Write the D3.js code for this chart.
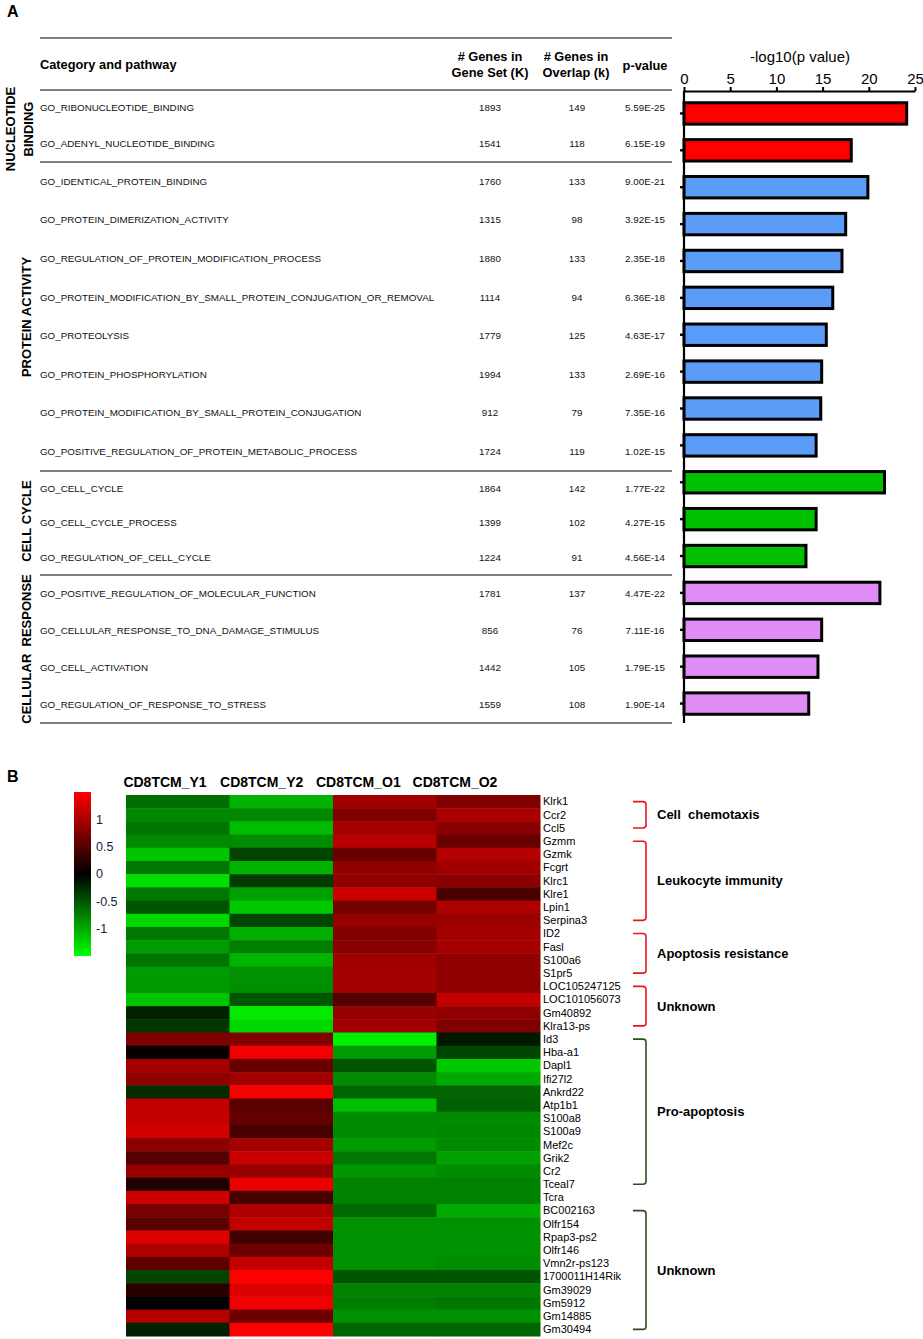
<!DOCTYPE html>
<html><head><meta charset="utf-8">
<script src="https://cdn.jsdelivr.net/npm/d3@7"></script>
<style>body{margin:0;background:#fff} svg{display:block} text{font-family:Arial,"Liberation Sans",sans-serif}</style>
</head><body>
<svg id="c" width="923" height="1339"></svg>
<script>
// ---------------- DATA: panel A ----------------
const pathways = ["GO_RIBONUCLEOTIDE_BINDING","GO_ADENYL_NUCLEOTIDE_BINDING","GO_IDENTICAL_PROTEIN_BINDING","GO_PROTEIN_DIMERIZATION_ACTIVITY","GO_REGULATION_OF_PROTEIN_MODIFICATION_PROCESS","GO_PROTEIN_MODIFICATION_BY_SMALL_PROTEIN_CONJUGATION_OR_REMOVAL","GO_PROTEOLYSIS","GO_PROTEIN_PHOSPHORYLATION","GO_PROTEIN_MODIFICATION_BY_SMALL_PROTEIN_CONJUGATION","GO_POSITIVE_REGULATION_OF_PROTEIN_METABOLIC_PROCESS","GO_CELL_CYCLE","GO_CELL_CYCLE_PROCESS","GO_REGULATION_OF_CELL_CYCLE","GO_POSITIVE_REGULATION_OF_MOLECULAR_FUNCTION","GO_CELLULAR_RESPONSE_TO_DNA_DAMAGE_STIMULUS","GO_CELL_ACTIVATION","GO_REGULATION_OF_RESPONSE_TO_STRESS"];
const geneSetK = [1893,1541,1760,1315,1880,1114,1779,1994,912,1724,1864,1399,1224,1781,856,1442,1559];
const overlapK = [149,118,133,98,133,94,125,133,79,119,142,102,91,137,76,105,108];
const pValues = ["5.59E-25","6.15E-19","9.00E-21","3.92E-15","2.35E-18","6.36E-18","4.63E-17","2.69E-16","7.35E-16","1.02E-15","1.77E-22","4.27E-15","4.56E-14","4.47E-22","7.11E-16","1.79E-15","1.90E-14"];
const negLog10P = [24.1,18.1,19.9,17.5,17.1,16.1,15.4,14.9,14.8,14.3,21.7,14.3,13.2,21.2,14.9,14.5,13.5];
const pathwayCategory = [0,0,1,1,1,1,1,1,1,1,2,2,2,3,3,3,3];
const categoryNames = [["NUCLEOTIDE","BINDING"],["PROTEIN ACTIVITY"],["CELL CYCLE"],["CELLULAR\u00a0\u00a0RESPONSE"]];
const xTicks = [0,5,10,15,20,25];

// ---------------- DATA: panel B ----------------
const samples = ["CD8TCM_Y1","CD8TCM_Y2","CD8TCM_O1","CD8TCM_O2"];
const genes = ["Klrk1","Ccr2","Ccl5","Gzmm","Gzmk","Fcgrt","Klrc1","Klre1","Lpin1","Serpina3","ID2","Fasl","S100a6","S1pr5","LOC105247125","LOC101056073","Gm40892","Klra13-ps","Id3","Hba-a1","Dapl1","Ifi27l2","Ankrd22","Atp1b1","S100a8","S100a9","Mef2c","Grik2","Cr2","Tceal7","Tcra","BC002163","Olfr154","Rpap3-ps2","Olfr146","Vmn2r-ps123","1700011H14Rik","Gm39029","Gm5912","Gm14885","Gm30494"];
const valuesY1 = [-0.65,-0.8,-0.68,-0.82,-1.15,-0.7,-1.3,-0.7,-0.5,-1.26,-0.7,-0.91,-0.68,-0.91,-0.9,-1.15,-0.2,-0.32,0.74,0.03,0.97,0.85,-0.26,1.15,1.15,1.24,0.82,0.5,0.88,0.18,1.2,0.7,0.53,1.3,1.03,0.56,-0.41,0.24,0,1.06,-0.2];
const valuesY2 = [-1.05,-0.8,-1.1,-0.82,-0.4,-1.05,-0.35,-0.94,-1.18,-0.41,-1.03,-0.74,-1.06,-0.85,-0.84,-0.5,-1.38,-1.26,0.76,1.41,0.62,0.94,1.47,0.53,0.59,0.41,0.97,1.18,0.88,1.38,0.41,1.03,1.15,0.38,0.65,1.15,1.5,1.3,1.41,0.65,1.5];
const valuesO1 = [0.95,0.75,0.97,1.08,0.62,0.85,0.85,1.2,0.68,0.88,0.76,0.8,0.94,0.97,0.96,0.5,0.88,0.94,-1.41,-0.91,-0.5,-0.82,-0.59,-1.12,-0.82,-0.82,-0.91,-0.7,-0.88,-0.76,-0.76,-0.62,-0.85,-0.85,-0.85,-0.85,-0.5,-0.76,-0.74,-0.85,-0.59];
const valuesO2 = [0.75,1.0,0.8,0.62,1.05,0.95,0.82,0.44,1.03,0.9,0.97,0.97,0.85,0.85,0.84,1.15,0.85,0.74,-0.15,-0.41,-1.18,-1.0,-0.59,-0.56,-0.82,-0.8,-0.82,-0.94,-0.82,-0.76,-0.76,-1.0,-0.85,-0.85,-0.85,-0.82,-0.5,-0.76,-0.7,-0.85,-0.59];
const groupLabels = ["Cell\u00a0\u00a0chemotaxis","Leukocyte immunity","Apoptosis resistance","Unknown","Pro-apoptosis","Unknown"];
const groupStart = ["Klrk1","Gzmm","ID2","LOC105247125","Id3","BC002163"];
const groupEnd = ["Ccl5","Serpina3","S1pr5","Klra13-ps","Tceal7","Gm30494"];
const legendTicks = [1,0.5,0,-0.5,-1];

// ---------------- STYLES / LAYOUT ----------------
const catColors = ["#ff0000","#5b9cf8","#00c000","#e08cf6"];
const groupColors = ["#e8161c","#e8161c","#e8161c","#e8161c","#2f4d20","#2f4d20"];

const svg = d3.select("#c");

// ===== Panel A =====
svg.append("text").attr("x",7).attr("y",17).attr("font-weight","bold").attr("font-size",16).text("A");

const tableLeft = 40, tableRight = 672;
const groupEdges = [90,162,471,575,723];
const lineGrey = "#555";
[38].concat(groupEdges).forEach(y=>{
  svg.append("line").attr("x1",tableLeft).attr("x2",tableRight).attr("y1",y).attr("y2",y)
    .attr("stroke",lineGrey).attr("stroke-width",1.5);
});
svg.append("text").attr("x",tableLeft).attr("y",69).attr("font-weight","bold").attr("font-size",12.8).text("Category and pathway");
const hdr = [[490,["# Genes in","Gene Set (K)"]],[576,["# Genes in","Overlap (k)"]]];
hdr.forEach(([x,lines])=>{
  lines.forEach((l,i)=>svg.append("text").attr("x",x).attr("y",61+i*16).attr("text-anchor","middle").attr("font-weight","bold").attr("font-size",12.8).text(l));
});
svg.append("text").attr("x",645).attr("y",70).attr("text-anchor","middle").attr("font-weight","bold").attr("font-size",12.8).text("p-value");

const rowY = new Array(pathways.length);
categoryNames.forEach((c,ci)=>{
  const idx = pathways.map((p,i)=>i).filter(i=>pathwayCategory[i]===ci);
  const band = d3.scaleBand().domain(idx).range([groupEdges[ci],groupEdges[ci+1]]);
  idx.forEach(i=>rowY[i]=band(i)+band.bandwidth()/2);
});
const rows = svg.append("g").attr("font-size",9.8).attr("fill","#111");
pathways.forEach((p,i)=>{
  rows.append("text").attr("x",tableLeft).attr("y",rowY[i]).attr("dy","0.35em").text(p);
  rows.append("text").attr("x",490).attr("y",rowY[i]).attr("dy","0.35em").attr("text-anchor","middle").text(geneSetK[i]);
  rows.append("text").attr("x",577).attr("y",rowY[i]).attr("dy","0.35em").attr("text-anchor","middle").text(overlapK[i]);
  rows.append("text").attr("x",645).attr("y",rowY[i]).attr("dy","0.35em").attr("text-anchor","middle").text(pValues[i]);
});
const catCenterY = [129,317,521,649];
categoryNames.forEach((lines,ci)=>{
  lines.forEach((l,li)=>{
    const bx = lines.length===2 ? (li===0?15:33) : 31;
    svg.append("text").attr("transform",`translate(${bx},${catCenterY[ci]}) rotate(-90)`)
      .attr("text-anchor","middle").attr("font-weight","bold").attr("font-size",13).text(l);
  });
});

const x = d3.scaleLinear().domain([0,25]).range([684,915]);
const y = d3.scaleBand().domain(d3.range(pathways.length)).range([95,722]).paddingInner(0.42).paddingOuter(0.21);
svg.append("g").selectAll("rect").data(negLog10P).join("rect")
  .attr("x",x(0)).attr("y",(d,i)=>y(i)).attr("width",d=>x(d)-x(0)).attr("height",y.bandwidth())
  .attr("fill",(d,i)=>catColors[pathwayCategory[i]]).attr("stroke","#000").attr("stroke-width",3);
const xAxis = svg.append("g").attr("transform","translate(0,91)")
  .call(d3.axisTop(x).tickValues(xTicks).tickSize(4).tickPadding(3).tickSizeOuter(0));
xAxis.select(".domain").attr("stroke-width",2.2);
xAxis.selectAll(".tick line").attr("stroke-width",2);
xAxis.selectAll("text").attr("font-size",15).attr("font-family","Arial,'Liberation Sans',sans-serif").attr("fill","#000");
const yAxis = svg.append("g").attr("transform",`translate(${x(0)},0)`)
  .call(d3.axisLeft(y).tickSize(4).tickFormat("").tickSizeOuter(0));
yAxis.select(".domain").attr("d",`M0,91V723`).attr("stroke-width",2.2);
yAxis.selectAll(".tick line").attr("stroke-width",2.4);
svg.append("text").attr("x",800).attr("y",62).attr("text-anchor","middle").attr("font-size",15).text("-log10(p value)");

// ===== Panel B =====
svg.append("text").attr("x",7).attr("y",782).attr("font-weight","bold").attr("font-size",16).text("B");
const values = [valuesY1,valuesY2,valuesO1,valuesO2];
const color = d3.scaleLinear().domain([-1.5,0,1.5]).range(["#00ff00","#000000","#ff0000"]).clamp(true);
const hx = d3.scaleBand().domain(samples).range([126,540]);
const hy = d3.scaleBand().domain(genes).range([795,1336]);
const cells = [];
samples.forEach((s,si)=>genes.forEach((g,gi)=>cells.push({s,g,v:values[si][gi]})));
svg.append("g").selectAll("rect").data(cells).join("rect")
  .attr("x",d=>hx(d.s)).attr("y",d=>hy(d.g)).attr("width",hx.bandwidth()+0.5).attr("height",hy.bandwidth()+0.5)
  .attr("fill",d=>color(d.v));
const hdrX = d3.scalePoint().domain(samples).range([165,455]);
svg.append("g").selectAll("text").data(samples).join("text")
  .attr("x",d=>hdrX(d)).attr("y",787).attr("text-anchor","middle").attr("font-weight","bold").attr("font-size",14).text(d=>d);
svg.append("g").selectAll("text").data(genes).join("text")
  .attr("x",543).attr("y",d=>hy(d)+hy.bandwidth()/2).attr("dy","0.35em").attr("font-size",11).text(d=>d);
const bx0 = 633, bx1 = 646;
groupLabels.forEach((lab,i)=>{
  const y0 = hy(groupStart[i])+hy.bandwidth()/2, y1 = hy(groupEnd[i])+hy.bandwidth()/2;
  svg.append("path").attr("d",`M${bx0},${y0}H${bx1-3}Q${bx1},${y0} ${bx1},${y0+3}V${y1-3}Q${bx1},${y1} ${bx1-3},${y1}H${bx0}`)
    .attr("fill","none").attr("stroke",groupColors[i]).attr("stroke-width",1.6);
  svg.append("text").attr("x",657).attr("y",(y0+y1)/2).attr("dy","0.35em").attr("font-weight","bold").attr("font-size",13).text(lab);
});
const legTop = 792, legBot = 956;
const ly = d3.scaleLinear().domain([1.5,-1.5]).range([legTop,legBot]);
const defs = svg.append("defs");
const grad = defs.append("linearGradient").attr("id","lg").attr("x1",0).attr("x2",0).attr("y1",0).attr("y2",1);
d3.range(0,1.0001,0.1).forEach(t=>grad.append("stop").attr("offset",t).attr("stop-color",color(1.5-3*t)));
svg.append("rect").attr("x",74).attr("y",legTop).attr("width",17).attr("height",legBot-legTop).attr("fill","url(#lg)");
svg.append("g").selectAll("text").data(legendTicks).join("text")
  .attr("x",96).attr("y",d=>ly(d)).attr("dy","0.35em").attr("font-size",12.5).attr("font-family","'DejaVu Sans',sans-serif")
  .attr("fill","#1a1a40").text(d=>d);
</script>
</body></html>
